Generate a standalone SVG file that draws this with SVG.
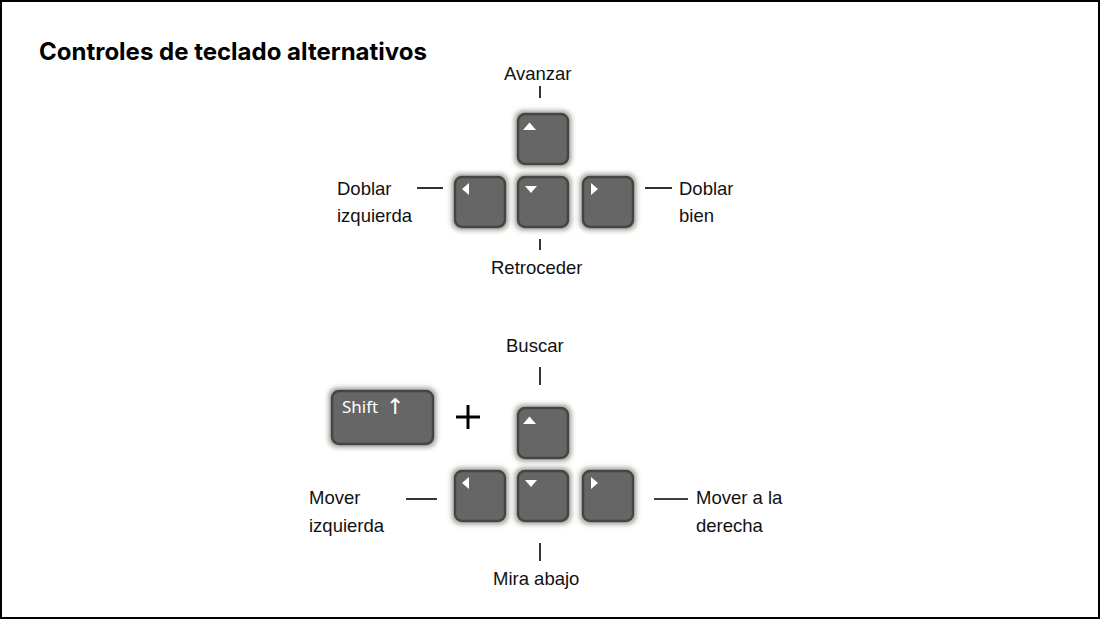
<svg xmlns="http://www.w3.org/2000/svg" width="1101" height="620" viewBox="0 0 1101 620">
<defs>
<filter id="glow" x="-30%" y="-30%" width="160%" height="160%">
<feMorphology in="SourceAlpha" operator="dilate" radius="2" result="d"/>
<feGaussianBlur in="d" stdDeviation="2.5" result="b"/>
<feFlood flood-color="#8c8c80" flood-opacity="0.85"/>
<feComposite in2="b" operator="in" result="g"/>
<feMerge><feMergeNode in="g"/><feMergeNode in="SourceGraphic"/></feMerge>
</filter>
</defs>
<style>
.key{fill:#666;stroke:#444;stroke-width:2.5;filter:url(#glow)}
.tri{fill:#fff}
.lbl{font-family:"Liberation Sans",Arial,sans-serif;font-size:18.5px;fill:#111}
.ln{stroke:#000;stroke-width:1.6;fill:none}
.plus{stroke:#000;stroke-width:3;fill:none}
.title{font-family:Inter,"Liberation Sans",sans-serif;font-weight:700;font-size:24px;fill:#000}
.kt{font-family:"Noto Sans","DejaVu Sans",sans-serif;fill:#fff}
</style>
<rect x="1" y="1" width="1098" height="617" fill="#fff" stroke="#000" stroke-width="2"/>
<text class="title" x="39" y="60">Controles de teclado alternativos</text>

<g id="connectors">
<line class="ln" x1="540" y1="86" x2="540" y2="98"/>
<line class="ln" x1="417" y1="188" x2="443" y2="188"/>
<line class="ln" x1="645" y1="188" x2="672" y2="188"/>
<line class="ln" x1="540" y1="239" x2="540" y2="250"/>
<line class="ln" x1="540" y1="367" x2="540" y2="385"/>
<line class="ln" x1="406" y1="499" x2="437" y2="499"/>
<line class="ln" x1="654" y1="499" x2="688" y2="499"/>
<line class="ln" x1="540" y1="543" x2="540" y2="561"/>
</g>

<g id="set1">
<g id="key-up-1"><rect class="key" x="518" y="114" width="50" height="50" rx="7"/><polygon class="tri" points="523,130 536,130 529.5,122.5"/></g>
<g id="key-left-1"><rect class="key" x="455" y="177" width="50" height="50" rx="7"/><polygon class="tri" points="469,183 469,195 462,189"/></g>
<g id="key-down-1"><rect class="key" x="518" y="177" width="50" height="50" rx="7"/><polygon class="tri" points="525,186 537,186 531,193"/></g>
<g id="key-right-1"><rect class="key" x="583" y="177" width="50" height="50" rx="7"/><polygon class="tri" points="591,183 591,195 598,189"/></g>
<g id="lbl-avanzar"><text class="lbl" x="504" y="80">Avanzar</text></g>
<g id="lbl-doblar-izq"><text class="lbl" x="337" y="195">Doblar</text><text class="lbl" x="337" y="222">izquierda</text></g>
<g id="lbl-doblar-bien"><text class="lbl" x="679" y="195">Doblar</text><text class="lbl" x="679" y="222">bien</text></g>
<g id="lbl-retroceder"><text class="lbl" x="491" y="274">Retroceder</text></g>
</g>

<g id="set2">
<g id="key-shift"><rect class="key" x="332" y="391" width="101" height="53" rx="7"/><text class="kt" x="342" y="413" font-size="17">Shift</text><text x="386" y="414" font-family="'DejaVu Sans',sans-serif" font-size="22" fill="#fff">↑</text></g>
<g id="plus"><line class="plus" x1="456" y1="417" x2="480" y2="417"/><line class="plus" x1="468" y1="405" x2="468" y2="429"/></g>
<g id="key-up-2"><rect class="key" x="518" y="408" width="50" height="50" rx="7"/><polygon class="tri" points="523,424 536,424 529.5,416.5"/></g>
<g id="key-left-2"><rect class="key" x="455" y="471" width="50" height="50" rx="7"/><polygon class="tri" points="469,477 469,489 462,483"/></g>
<g id="key-down-2"><rect class="key" x="518" y="471" width="50" height="50" rx="7"/><polygon class="tri" points="525,480 537,480 531,487"/></g>
<g id="key-right-2"><rect class="key" x="583" y="471" width="50" height="50" rx="7"/><polygon class="tri" points="591,477 591,489 598,483"/></g>
<g id="lbl-buscar"><text class="lbl" x="506" y="352">Buscar</text></g>
<g id="lbl-mover-izq"><text class="lbl" x="309" y="504">Mover</text><text class="lbl" x="309" y="532">izquierda</text></g>
<g id="lbl-mover-der"><text class="lbl" x="696" y="504">Mover a la</text><text class="lbl" x="696" y="532">derecha</text></g>
<g id="lbl-mira"><text class="lbl" x="493" y="585">Mira abajo</text></g>
</g>
</svg>
